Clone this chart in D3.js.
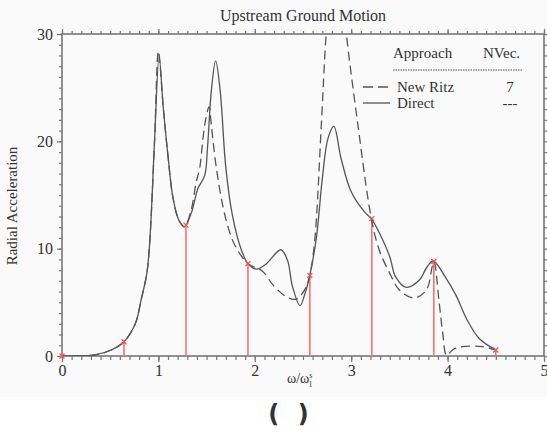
<!DOCTYPE html>
<html>
<head>
<meta charset="utf-8">
<script src="https://cdn.jsdelivr.net/npm/d3@7"></script>
<style>
  body { margin: 0; background: #fff; }
  svg { display: block; }
  text { font-family: "Liberation Serif", "Times New Roman", serif; fill: #333; }
</style>
</head>
<body>
<svg id="chart" width="547" height="435"></svg>
<script>
// Direct (solid) response curve
const directX = [0, 0.13, 0.34, 0.51, 0.643, 0.76, 0.82, 0.88, 0.91, 0.96, 1.007, 1.05, 1.10, 1.15, 1.21, 1.27, 1.34, 1.41, 1.48, 1.51, 1.55, 1.594, 1.64, 1.70, 1.77, 1.86, 1.93, 2.02, 2.12, 2.27, 2.34, 2.39, 2.47, 2.52, 2.57, 2.64, 2.70, 2.76, 2.82, 2.895, 3.0, 3.14, 3.209, 3.29, 3.40, 3.46, 3.57, 3.71, 3.78, 3.85, 3.98, 4.09, 4.20, 4.33, 4.5];
const directY = [0, 0, 0.1, 0.56, 1.33, 3.0, 5.2, 7.7, 10.6, 20.0, 27.9, 23.2, 18.6, 14.8, 12.7, 12.05, 13.3, 15.6, 16.8, 19.5, 24.8, 27.5, 24.8, 17.5, 13.0, 9.9, 8.6, 8.1, 8.6, 9.9, 8.9, 6.5, 4.7, 5.8, 7.5, 11.1, 16.5, 20.3, 21.4, 18.4, 15.3, 13.4, 12.8, 11.5, 9.25, 7.4, 6.4, 7.1, 8.2, 8.85, 7.3, 5.6, 3.4, 1.6, 0.56];

// New Ritz (dashed) curve, 7 vectors
const ritzX = [0, 0.13, 0.34, 0.51, 0.643, 0.76, 0.82, 0.88, 0.91, 0.96, 1.0, 1.05, 1.10, 1.15, 1.21, 1.27, 1.34, 1.39, 1.43, 1.46, 1.49, 1.525, 1.55, 1.60, 1.67, 1.73, 1.80, 1.93, 2.08, 2.19, 2.33, 2.43, 2.52, 2.57, 2.62, 2.69, 2.74, 2.79, 2.85, 2.90, 2.95, 3.07, 3.209, 3.29, 3.40, 3.50, 3.65, 3.78, 3.84, 3.86, 3.91, 3.95, 3.99, 4.05, 4.15, 4.36, 4.5];
const ritzY = [0, 0, 0.1, 0.56, 1.33, 3.0, 5.2, 7.7, 10.6, 20.0, 28.4, 23.2, 18.6, 14.8, 12.7, 12.05, 13.6, 16.1, 17.6, 20.1, 22.0, 23.2, 21.4, 17.6, 13.9, 11.8, 10.2, 8.6, 7.9, 6.6, 5.5, 5.3, 6.2, 7.5, 10.6, 21.5, 30, 35, 37, 35, 30, 21.5, 12.8, 9.9, 7.7, 6.15, 5.4, 6.15, 8.3, 8.8, 5.2, 2.1, 0.05, 0.56, 0.87, 0.87, 0.56];

// sample frequencies (red stems)
const stemX = [0, 0.643, 1.286, 1.929, 2.571, 3.214, 3.857, 4.5];
const stemY = [0, 1.33, 12.2, 8.6, 7.5, 12.8, 8.8, 0.56];

const xMajor = [0, 1, 2, 3, 4, 5];
const yMajor = [0, 10, 20, 30];

const svg = d3.select("#chart");

svg.append("rect")
  .attr("width", 547).attr("height", 397)
  .attr("fill", "#fafafa");

const x = d3.scaleLinear().domain([0, 5]).range([62, 544]);
const y = d3.scaleLinear().domain([0, 30]).range([356, 34]);

const axisColor = "#777";

const styleAxis = g => {
  g.select(".domain").remove();
  g.selectAll(".tick line").attr("stroke", axisColor).attr("stroke-width", 1.2);
  g.selectAll("text")
    .style("font-family", "'Liberation Serif', serif")
    .style("font-size", "16px")
    .attr("fill", "#333");
};

// minor ticks
const xMinor = d3.range(0, 5.001, 0.1);
const yMinor = d3.range(0, 30.001, 1);

svg.append("g").attr("transform", `translate(0,${y(0)})`)
  .call(d3.axisBottom(x).tickValues(xMinor).tickSize(4).tickFormat(""))
  .call(styleAxis);
svg.append("g").attr("transform", `translate(0,${y(0)})`)
  .call(d3.axisBottom(x).tickValues(xMajor).tickSize(6).tickPadding(3).tickFormat(d3.format("d")))
  .call(styleAxis);

svg.append("g").attr("transform", `translate(0,${y(30)})`)
  .call(d3.axisTop(x).tickValues(xMinor).tickSize(3).tickFormat(""))
  .call(styleAxis);
svg.append("g").attr("transform", `translate(0,${y(30)})`)
  .call(d3.axisTop(x).tickValues(xMajor).tickSize(5).tickFormat(""))
  .call(styleAxis);

svg.append("g").attr("transform", `translate(${x(0)},0)`)
  .call(d3.axisLeft(y).tickValues(yMinor).tickSize(3).tickFormat(""))
  .call(styleAxis);
svg.append("g").attr("transform", `translate(${x(0)},0)`)
  .call(d3.axisLeft(y).tickValues(yMajor).tickSize(5).tickPadding(4).tickFormat(d3.format("d")))
  .call(styleAxis);

svg.append("g").attr("transform", `translate(${x(5)},0)`)
  .call(d3.axisRight(y).tickValues(yMinor).tickSize(3).tickFormat(""))
  .call(styleAxis);

// frame
svg.append("rect")
  .attr("x", x(0)).attr("y", y(30))
  .attr("width", x(5) - x(0)).attr("height", y(0) - y(30))
  .attr("fill", "none").attr("stroke", axisColor).attr("stroke-width", 1.6);

svg.append("clipPath").attr("id", "plot")
  .append("rect")
  .attr("x", x(0)).attr("y", y(30))
  .attr("width", x(5) - x(0)).attr("height", y(0) - y(30));

const plot = svg.append("g").attr("clip-path", "url(#plot)");

// red stems
const stems = stemX.map((v, i) => ({ x: v, y: stemY[i] }));
plot.selectAll("line.stem")
  .data(stems)
  .enter().append("line")
  .attr("class", "stem")
  .attr("x1", d => x(d.x)).attr("x2", d => x(d.x))
  .attr("y1", y(0)).attr("y2", d => y(d.y))
  .attr("stroke", "#ff7070").attr("stroke-width", 1.6);

const line = d3.line()
  .x(d => x(d[0]))
  .y(d => y(d[1]))
  .curve(d3.curveCatmullRom.alpha(0.5));

plot.append("path")
  .datum(directX.map((v, i) => [v, directY[i]]))
  .attr("d", line)
  .attr("fill", "none")
  .attr("stroke", "#555")
  .attr("stroke-width", 1.3);

plot.append("path")
  .datum(ritzX.map((v, i) => [v, ritzY[i]]))
  .attr("d", line)
  .attr("fill", "none")
  .attr("stroke", "#555")
  .attr("stroke-width", 1.3)
  .attr("stroke-dasharray", "9,5");

// red x markers
svg.selectAll("path.mark")
  .data(stems)
  .enter().append("path")
  .attr("class", "mark")
  .attr("transform", d => `translate(${x(d.x)},${y(d.y)})`)
  .attr("d", d3.symbol(d3.symbolX, 18))
  .attr("fill", "none")
  .attr("stroke", "#ff5050")
  .attr("stroke-width", 1.2);

// title
svg.append("text")
  .attr("x", 303).attr("y", 21)
  .attr("text-anchor", "middle")
  .style("font-size", "16px")
  .attr("fill", "#222")
  .text("Upstream Ground Motion");

// y label
svg.append("text")
  .attr("transform", "translate(17,206) rotate(-90)")
  .attr("text-anchor", "middle")
  .style("font-size", "15px")
  .attr("fill", "#444")
  .text("Radial Acceleration");

// x label
const xl = svg.append("text")
  .attr("x", 287).attr("y", 383)
  .style("font-size", "14px")
  .attr("fill", "#444");
xl.append("tspan").text("ω/ω");
xl.append("tspan").attr("dy", -5).style("font-size", "8px").text("s");
xl.append("tspan").attr("dx", -4).attr("dy", 9).style("font-size", "8px").text("1");

// legend
const lg = svg.append("g").style("font-size", "15px");
lg.append("text").attr("x", 393).attr("y", 58).attr("fill", "#333").text("Approach");
lg.append("text").attr("x", 483).attr("y", 58).attr("fill", "#333").text("NVec.");
lg.append("line")
  .attr("x1", 393).attr("x2", 522).attr("y1", 70).attr("y2", 70)
  .attr("stroke", "#555").attr("stroke-width", 1.2).attr("stroke-dasharray", "1.5,1");
lg.append("line")
  .attr("x1", 363).attr("x2", 390).attr("y1", 87).attr("y2", 87)
  .attr("stroke", "#555").attr("stroke-width", 1.3).attr("stroke-dasharray", "10,5");
lg.append("text").attr("x", 397).attr("y", 92).attr("fill", "#333").text("New Ritz");
lg.append("text").attr("x", 510).attr("y", 92).attr("text-anchor", "middle").attr("fill", "#333").text("7");
lg.append("line")
  .attr("x1", 363).attr("x2", 390).attr("y1", 103).attr("y2", 103)
  .attr("stroke", "#555").attr("stroke-width", 1.3);
lg.append("text").attr("x", 397).attr("y", 108).attr("fill", "#333").text("Direct");
lg.append("text").attr("x", 510).attr("y", 108).attr("text-anchor", "middle").attr("fill", "#333").text("---");

// caption
svg.append("text")
  .attr("x", 291).attr("y", 422)
  .attr("text-anchor", "middle")
  .style("font-family", "'DejaVu Sans', sans-serif")
  .style("font-size", "24px")
  .style("font-weight", "bold")
  .style("letter-spacing", "5px")
  .attr("fill", "#000")
  .attr("xml:space", "preserve")
  .text("( )");
</script>
</body>
</html>
